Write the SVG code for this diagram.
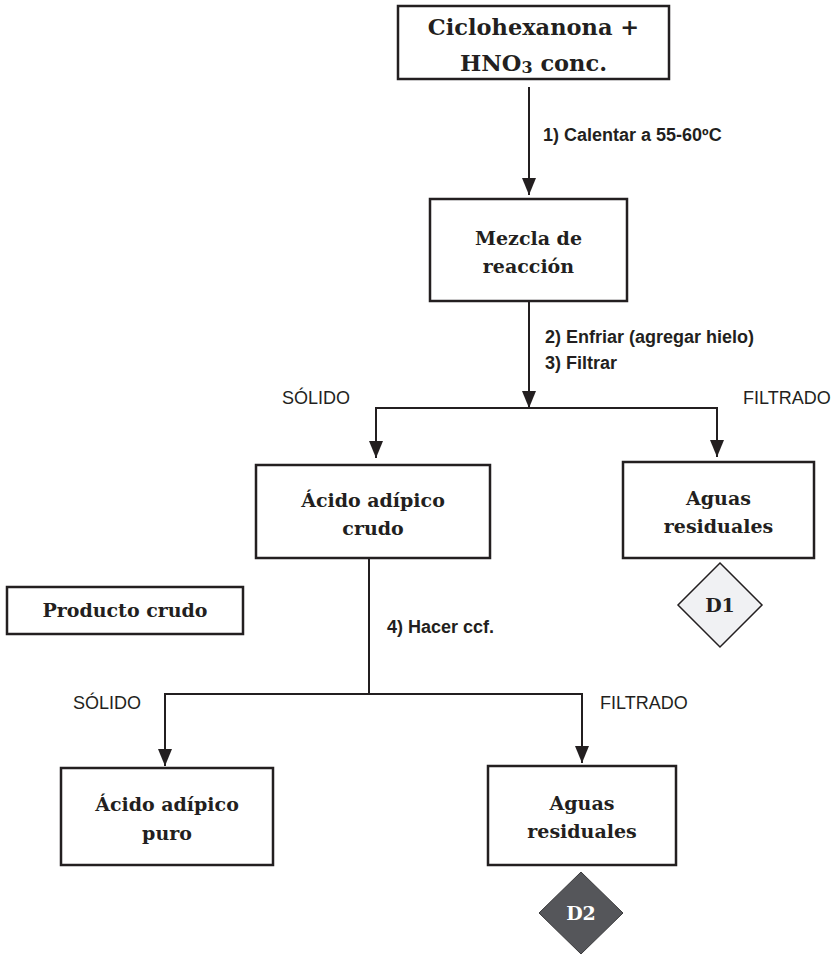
<svg xmlns="http://www.w3.org/2000/svg" width="835" height="955" viewBox="0 0 835 955">
<defs>
<marker id="ah" viewBox="0 0 17 14" refX="17" refY="7" markerWidth="17" markerHeight="14" markerUnits="userSpaceOnUse" orient="auto">
<path d="M0,0 L17,7 L0,14 Z" fill="#231f20"/>
</marker>
<style>
.box{fill:#fff;stroke:#231f20;stroke-width:2.5}
.ln{fill:none;stroke:#231f20;stroke-width:2}
.arr{fill:none;stroke:#231f20;stroke-width:2}
.nt{font-family:"DejaVu Serif","Liberation Serif",serif;font-weight:bold;font-size:19px;fill:#231f20;text-anchor:middle}
.big{font-size:22.5px}
.lbl{font-family:"Liberation Sans",Arial,sans-serif;font-weight:bold;font-size:18px;fill:#231f20}
.tag{font-family:"Liberation Sans",Arial,sans-serif;font-size:18px;fill:#231f20}
</style>
</defs>
<rect width="835" height="955" fill="#fff"/>

<g id="connectors">
<line class="arr" x1="529" y1="87" x2="529" y2="195" marker-end="url(#ah)"/>
<line class="arr" x1="529" y1="301" x2="529" y2="408" marker-end="url(#ah)"/>
<line class="ln" x1="375" y1="408" x2="718" y2="408"/>
<line class="arr" x1="376" y1="407" x2="376" y2="458" marker-end="url(#ah)"/>
<line class="arr" x1="717" y1="407" x2="717" y2="457" marker-end="url(#ah)"/>
<line class="ln" x1="369" y1="558" x2="369" y2="694"/>
<line class="ln" x1="164" y1="694" x2="583" y2="694"/>
<line class="arr" x1="165" y1="693" x2="165" y2="766" marker-end="url(#ah)"/>
<line class="arr" x1="582" y1="693" x2="582" y2="763" marker-end="url(#ah)"/>
</g>

<g id="labels">
<text class="lbl" x="543" y="141">1) Calentar a 55-60ºC</text>
<text class="lbl" x="545" y="343">2) Enfriar (agregar hielo)</text>
<text class="lbl" x="545" y="369">3) Filtrar</text>
<text class="tag" x="282" y="404">SÓLIDO</text>
<text class="tag" x="743" y="404">FILTRADO</text>
<text class="lbl" x="387" y="633">4) Hacer ccf.</text>
<text class="tag" x="73" y="709">SÓLIDO</text>
<text class="tag" x="600" y="709">FILTRADO</text>
</g>

<g id="n-inicio">
<rect class="box" x="398" y="6" width="271" height="73"/>
<text class="nt big" x="533.5" y="35">Ciclohexanona +</text>
<text class="nt big" x="533.5" y="71">HNO<tspan font-size="16" dy="2">3</tspan><tspan dy="-2"> conc.</tspan></text>
</g>

<g id="n-mezcla">
<rect class="box" x="430" y="199" width="197" height="102"/>
<text class="nt" x="528.5" y="245">Mezcla de</text>
<text class="nt" x="528.5" y="273">reacción</text>
</g>

<g id="n-crudo">
<rect class="box" x="256" y="465" width="234" height="93"/>
<text class="nt" x="373" y="507">Ácido adípico</text>
<text class="nt" x="373" y="535">crudo</text>
</g>

<g id="n-aguas1">
<rect class="box" x="623" y="462" width="191" height="96"/>
<text class="nt" x="718.5" y="505">Aguas</text>
<text class="nt" x="718.5" y="533">residuales</text>
</g>

<g id="n-d1">
<path d="M720,563 L762,605 L720,647 L678,605 Z" fill="#f0f1f3" stroke="#231f20" stroke-width="1.5"/>
<text class="nt" x="720" y="612" font-size="18">D1</text>
</g>

<g id="n-producto">
<rect class="box" x="7" y="587" width="236" height="47"/>
<text class="nt" x="125" y="617">Producto crudo</text>
</g>

<g id="n-puro">
<rect class="box" x="61" y="768" width="212" height="97"/>
<text class="nt" x="167" y="811">Ácido adípico</text>
<text class="nt" x="167" y="840">puro</text>
</g>

<g id="n-aguas2">
<rect class="box" x="488" y="766" width="188" height="99"/>
<text class="nt" x="582" y="810">Aguas</text>
<text class="nt" x="582" y="838">residuales</text>
</g>

<g id="n-d2">
<path d="M581,872 L623,913 L581,954 L539,913 Z" fill="#55565a" stroke="#3a3a3c" stroke-width="1"/>
<text class="nt" x="581" y="920" font-size="18" style="fill:#fff">D2</text>
</g>
</svg>
